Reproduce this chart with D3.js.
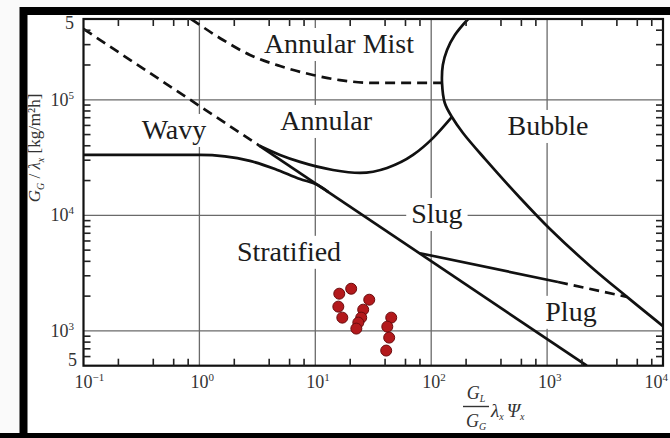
<!DOCTYPE html>
<html>
<head>
<meta charset="utf-8">
<script src="https://cdn.jsdelivr.net/npm/d3@7"></script>
<style>
  html, body { margin: 0; padding: 0; background: #fafafa; }
  svg { display: block; font-family: "Liberation Serif", "Times New Roman", serif; }
</style>
</head>
<body>
<svg id="chart" width="670" height="438"></svg>
<script>
// ---- axis data ----
const xDomain = [0.1, 1e4];
const yDomain = [500, 5e5];
const xTickValues = [0.1, 1, 10, 100, 1000, 10000];
const xTickExponents = ["\u22121", "0", "1", "2", "3", "4"];
const yTickValues = [5e5, 1e5, 1e4, 1e3, 500];
const yTickBases = ["5", "10", "10", "10", "5"];
const yTickExponents = ["", "5", "4", "3", ""];
const gridX = [1, 10, 100, 1000];
const gridY = [1e3, 1e4, 1e5];
const xMinorMultipliers = [2, 4, 6, 8];
const yMinorMultipliers = [2, 3, 4, 5, 6, 7, 8, 9];

// ---- flow-regime boundaries, [x, y] ----
const stratifiedDashed = [[0.1, 4.1e5], [3.3, 4.0e4]];
const stratifiedSolid = [[3.3, 4.0e4], [2200, 500]];
const wavyBoundary = [[0.1, 33300], [1.0, 33300], [1.66, 32400], [2.73, 29600], [4.49, 25200], [7.38, 20600], [10.5, 18300], [13, 15900]];
const annularBoundary = [[3.3, 4.0e4], [4.96, 33300], [7.38, 29000], [14.2, 24700], [24.3, 23300], [41.6, 25700], [69.7, 33300], [104, 46800], [151, 71000]];
const bubbleBoundary = [[208, 5e5], [160, 364000], [137, 270000], [126, 200000], [124, 140000], [131, 93800], [151, 71000],
                        [188, 51600], [291, 30800], [583, 14200], [1059, 7620], [2344, 3650], [4887, 1970], [10000, 1100]];
const mistBoundary = [[0.848, 5e5], [1.60, 329000], [2.73, 244000], [4.96, 196000], [9.55, 164000], [16.3, 148000], [31.5, 140000], [124, 140000]];
const plugSolid = [[80, 4700], [1242, 2650]];
const plugDashed = [[1242, 2650], [4887, 1970]];

// ---- region names and their anchor points ----
const regionNames = ["Annular Mist", "Annular", "Wavy", "Bubble", "Slug", "Stratified", "Plug"];
const regionX = [16.0, 12.4, 0.603, 1018, 112, 5.93, 1607];
const regionY = [254000, 54800, 45800, 49600, 8590, 4040, 1222];

// ---- measured operating points ----
const pointX = [16.1, 20.4, 15.8, 17.1, 29.2, 25.9, 24.9, 23.5, 22.6, 45.2, 41.8, 43.4, 40.9];
const pointY = [2099, 2317, 1622, 1303, 1862, 1527, 1303, 1180, 1047, 1303, 1089, 875, 676];

// ---- layout ----
const W = 670, H = 438;
const plot = { left: 83.5, right: 663, top: 19, bottom: 365.7 };
const svg = d3.select("#chart");

const x = d3.scaleLog().domain(xDomain).range([plot.left, plot.right]);
const y = d3.scaleLog().domain(yDomain).range([plot.bottom, plot.top]);

// page frame
svg.append("rect").attr("width", W).attr("height", H).attr("fill", "#fafafa");
svg.append("rect")
  .attr("x", 23.5).attr("y", 11).attr("width", W + 20).attr("height", 426)
  .attr("fill", "#fff").attr("stroke", "#000").attr("stroke-width", 8);

svg.append("clipPath").attr("id", "plotClip")
  .append("rect")
  .attr("x", plot.left).attr("y", plot.top)
  .attr("width", plot.right - plot.left).attr("height", plot.bottom - plot.top);

// major grid
const grid = svg.append("g").attr("stroke", "#6a6a6a").attr("stroke-width", 1.3);
grid.selectAll("line.gx").data(gridX).join("line").attr("class", "gx")
  .attr("x1", d => x(d)).attr("x2", d => x(d))
  .attr("y1", plot.top).attr("y2", plot.bottom);
grid.selectAll("line.gy").data(gridY).join("line").attr("class", "gy")
  .attr("x1", plot.left).attr("x2", plot.right)
  .attr("y1", d => y(d)).attr("y2", d => y(d));

// region labels on white boxes
const labels = svg.append("g");
regionNames.forEach((name, i) => {
  const g = labels.append("g");
  const t = g.append("text")
    .attr("x", x(regionX[i])).attr("y", y(regionY[i]))
    .attr("text-anchor", "middle")
    .attr("font-size", 28)
    .attr("fill", "#1c1c1c")
    .text(name);
  const b = t.node().getBBox();
  g.insert("rect", "text")
    .attr("x", b.x - 5).attr("y", b.y)
    .attr("width", b.width + 10).attr("height", b.height + 2)
    .attr("fill", "#fff");
});

// boundaries
const curves = svg.append("g").attr("clip-path", "url(#plotClip)")
  .attr("fill", "none").attr("stroke", "#111").attr("stroke-width", 2.7)
  .attr("stroke-linecap", "butt");
const smooth = d3.line().x(d => x(d[0])).y(d => y(d[1])).curve(d3.curveMonotoneX);
const straight = d3.line().x(d => x(d[0])).y(d => y(d[1]));
const loop = d3.line().x(d => x(d[0])).y(d => y(d[1])).curve(d3.curveCatmullRom.alpha(0.5));

curves.append("path").attr("d", straight(stratifiedDashed)).attr("stroke-dasharray", "10,6");
curves.append("path").attr("d", straight(stratifiedSolid));
curves.append("path").attr("d", smooth(wavyBoundary));
curves.append("path").attr("d", smooth(annularBoundary));
curves.append("path").attr("d", loop(bubbleBoundary));
curves.append("path").attr("d", smooth(mistBoundary)).attr("stroke-dasharray", "10,6");
curves.append("path").attr("d", straight(plugSolid));
curves.append("path").attr("d", straight(plugDashed)).attr("stroke-dasharray", "10,6");

// operating points
svg.append("g").selectAll("circle").data(pointX).join("circle")
  .attr("cx", (d, i) => x(pointX[i]))
  .attr("cy", (d, i) => y(pointY[i]))
  .attr("r", 5.5)
  .attr("fill", "#b3191c")
  .attr("stroke", "#6a0b0d")
  .attr("stroke-width", 1);

// plot frame
svg.append("rect")
  .attr("x", plot.left).attr("y", plot.top)
  .attr("width", plot.right - plot.left).attr("height", plot.bottom - plot.top)
  .attr("fill", "none").attr("stroke", "#111").attr("stroke-width", 2.2);

// minor ticks, pointing inward
const xMinor = [];
for (let e = -1; e < 4; e++) xMinorMultipliers.forEach(m => xMinor.push(m * Math.pow(10, e)));
const yMinor = [];
for (let e = 2; e < 6; e++) yMinorMultipliers.forEach(m => {
  const v = m * Math.pow(10, e);
  if (v > yDomain[0] && v < yDomain[1]) yMinor.push(v);
});
const ticks = svg.append("g").attr("stroke", "#222").attr("stroke-width", 1.6);
const tl = 7;
ticks.selectAll("line.xb").data(xMinor).join("line").attr("class", "xb")
  .attr("x1", d => x(d)).attr("x2", d => x(d)).attr("y1", plot.bottom).attr("y2", plot.bottom - tl);
ticks.selectAll("line.xt").data(xMinor).join("line").attr("class", "xt")
  .attr("x1", d => x(d)).attr("x2", d => x(d)).attr("y1", plot.top).attr("y2", plot.top + tl);
ticks.selectAll("line.yl").data(yMinor).join("line").attr("class", "yl")
  .attr("x1", plot.left).attr("x2", plot.left + tl).attr("y1", d => y(d)).attr("y2", d => y(d));
ticks.selectAll("line.yr").data(yMinor).join("line").attr("class", "yr")
  .attr("x1", plot.right).attr("x2", plot.right - tl).attr("y1", d => y(d)).attr("y2", d => y(d));

// tick labels
const tickColor = "#333";
xTickValues.forEach((v, i) => {
  const last = i === xTickValues.length - 1;
  const t = svg.append("text")
    .attr("x", last ? 668 : x(v) - 9).attr("y", 388)
    .attr("text-anchor", last ? "end" : "start")
    .attr("font-size", 18).attr("fill", tickColor);
  t.append("tspan").text("10");
  t.append("tspan").attr("dy", -7).attr("font-size", 11).text(xTickExponents[i]);
});
yTickValues.forEach((v, i) => {
  const last = i === yTickValues.length - 1;
  const first = i === 0;
  const t = svg.append("text")
    .attr("x", last ? 77 : 74)
    .attr("y", y(v) + (first ? 10 : last ? 0 : 6))
    .attr("text-anchor", "end")
    .attr("font-size", 18).attr("fill", tickColor);
  t.append("tspan").text(yTickBases[i]);
  if (yTickExponents[i]) t.append("tspan").attr("dy", -7).attr("font-size", 11).text(yTickExponents[i]);
});

// y-axis title
const yTitle = svg.append("text")
  .attr("transform", "translate(40,148) rotate(-90)")
  .attr("text-anchor", "middle")
  .attr("font-size", 17).attr("fill", "#333");
yTitle.append("tspan").attr("font-style", "italic").text("G");
yTitle.append("tspan").attr("dy", 4).attr("font-size", 10).attr("font-style", "italic").text("G");
yTitle.append("tspan").attr("dy", -4).text(" / ");
yTitle.append("tspan").attr("font-style", "italic").text("λ");
yTitle.append("tspan").attr("dy", 4).attr("font-size", 10).attr("font-style", "italic").text("x");
yTitle.append("tspan").attr("dy", -4).text(" [kg/m²h]");

// x-axis title: G_L / G_G · λ_x Ψ_x
const xt = svg.append("g").attr("fill", "#333").attr("font-style", "italic");
const num = xt.append("text").attr("x", 476).attr("y", 399).attr("text-anchor", "middle").attr("font-size", 18);
num.append("tspan").text("G");
num.append("tspan").attr("dy", 3).attr("font-size", 10).text("L");
xt.append("line").attr("x1", 463).attr("x2", 489).attr("y1", 406.5).attr("y2", 406.5)
  .attr("stroke", "#333").attr("stroke-width", 1.4);
const den = xt.append("text").attr("x", 476).attr("y", 427).attr("text-anchor", "middle").attr("font-size", 18);
den.append("tspan").text("G");
den.append("tspan").attr("dy", 3).attr("font-size", 10).text("G");
const rest = xt.append("text").attr("x", 491).attr("y", 417).attr("font-size", 19);
rest.append("tspan").text("λ");
rest.append("tspan").attr("dy", 3).attr("font-size", 10).text("x");
rest.append("tspan").attr("dy", -3).attr("dx", 3).text("Ψ");
rest.append("tspan").attr("dy", 3).attr("font-size", 10).text("x");

// bottom edge of frame
svg.append("rect").attr("x", 0).attr("y", 433).attr("width", W).attr("height", 5).attr("fill", "#000");
</script>
</body>
</html>
